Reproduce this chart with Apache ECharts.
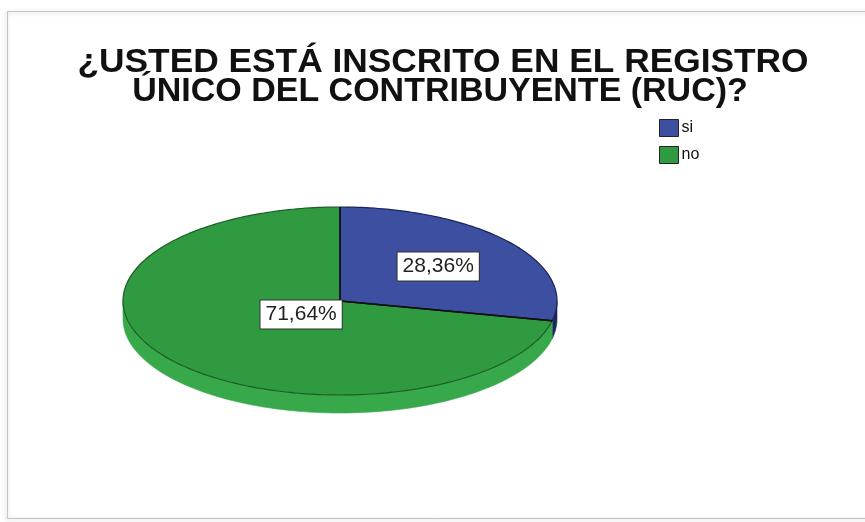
<!DOCTYPE html>
<html>
<head>
<meta charset="utf-8">
<script src="https://cdn.jsdelivr.net/npm/echarts@6/dist/echarts.min.js"></script>
<style>
  html, body { margin: 0; padding: 0; background: #fff; }
  #chart { width: 865px; height: 522px; }
</style>
</head>
<body>
<div id="chart"></div>
<script>
// Survey answers and their shares (%)
const categories = ['si', 'no'];
const values = [28.36, 71.64];
const topColors = ['#3c4fa0', '#2f9a40'];
const edgeColors = ['#1b2456', '#1d5e27'];
const sideColors = ['#1c275a', '#37a94b'];
const titleLines = ['¿USTED ESTÁ INSCRITO EN EL REGISTRO', 'ÚNICO DEL CONTRIBUYENTE (RUC)?'];

// Elliptical "3D" pie geometry
const CX = 340, CY = 301, RX = 217, RY = 94, DEPTH = 18;

const total = values.reduce((a, b) => a + b, 0);
const angles = [];
let acc = 0;
values.forEach(v => {
  const a0 = acc / total * Math.PI * 2;
  acc += v;
  angles.push([a0, acc / total * Math.PI * 2]);
});

// angle measured clockwise from 12 o'clock
function pt(theta, f, dy) {
  return [CX + RX * f * Math.sin(theta), CY - RY * f * Math.cos(theta) + (dy || 0)];
}

function arcPoints(a0, a1, dy) {
  const n = Math.max(4, Math.ceil((a1 - a0) / 0.02));
  const pts = [];
  for (let i = 0; i <= n; i++) pts.push(pt(a0 + (a1 - a0) * i / n, 1, dy));
  return pts;
}

function fmt(v) {
  return (v / total * 100).toFixed(2).replace('.', ',') + '%';
}

function makeRender(idx) {
  return function () {
    const [a0, a1] = angles[idx];
    const children = [];
    // visible side wall (front half of the disc)
    const s = Math.max(a0, Math.PI / 2), e = Math.min(a1, Math.PI * 1.5);
    if (s < e) {
      const top = arcPoints(s, e, 0);
      const bottom = arcPoints(s, e, DEPTH).reverse();
      children.push({
        type: 'polygon',
        shape: { points: top.concat(bottom) },
        style: { fill: sideColors[idx], stroke: sideColors[idx], lineWidth: 0.6 },
        z2: 1
      });
    }
    // top face
    const rim = arcPoints(a0, a1, 0);
    children.push({
      type: 'polygon',
      shape: { points: [[CX, CY]].concat(rim) },
      style: { fill: topColors[idx], stroke: null },
      z2: 2
    });
    // rim outline
    children.push({
      type: 'polyline',
      shape: { points: rim },
      style: { fill: null, stroke: edgeColors[idx], lineWidth: 1.2 },
      z2: 3
    });
    // radial edges
    children.push({
      type: 'polyline',
      shape: { points: [rim[0], [CX, CY], rim[rim.length - 1]] },
      style: { fill: null, stroke: '#111', lineWidth: 1.4, lineJoin: 'round' },
      z2: 4
    });
    // value label at the sector centroid
    const th = a1 - a0;
    const f = 4 * Math.sin(th / 2) / (3 * th);
    const c = pt((a0 + a1) / 2, f, 0);
    children.push({
      type: 'text',
      x: c[0], y: c[1],
      style: {
        text: fmt(values[idx]),
        align: 'center', verticalAlign: 'middle',
        font: '21px "Liberation Sans", Arial, sans-serif',
        fill: '#222',
        backgroundColor: '#fff',
        borderColor: '#333', borderWidth: 1,
        padding: [4, 5, 3, 5]
      },
      z2: 5
    });
    return { type: 'group', children: children };
  };
}

const chart = echarts.init(document.getElementById('chart'), null, { renderer: 'canvas' });

const titleFont = 'bold 33px "Liberation Sans", Arial, sans-serif';

chart.setOption({
  animation: false,
  backgroundColor: '#fff',
  legend: {
    orient: 'vertical',
    left: 659,
    top: 119,
    icon: 'rect',
    itemWidth: 19,
    itemHeight: 17,
    itemGap: 9,
    padding: 0,
    data: categories,
    itemStyle: { borderColor: '#222', borderWidth: 1 },
    textStyle: { fontFamily: '"Liberation Sans", Arial, sans-serif', fontSize: 16, color: '#111', padding: [0, 0, 0, -2] }
  },
  graphic: [{
    type: 'rect',
    shape: { x: 7.5, y: 11.5, width: 880, height: 507 },
    style: {
      fill: 'none', stroke: '#c4c4c4', lineWidth: 1,
      shadowBlur: 4, shadowColor: 'rgba(0,0,0,0.25)', shadowOffsetX: -1, shadowOffsetY: 1
    },
    z: -1
  }, {
    type: 'text',
    x: 443, y: 46,
    scaleX: 1.07,
    style: { text: titleLines[0], font: titleFont, fill: '#111', align: 'center', verticalAlign: 'top' }
  }, {
    type: 'text',
    x: 440, y: 75,
    scaleX: 1.03,
    style: { text: titleLines[1], font: titleFont, fill: '#111', align: 'center', verticalAlign: 'top' }
  }],
  series: categories.map((name, i) => ({
    type: 'custom',
    name: name,
    coordinateSystem: 'none',
    itemStyle: { color: topColors[i] },
    data: [values[i]],
    renderItem: makeRender(i)
  }))
});
</script>
</body>
</html>
